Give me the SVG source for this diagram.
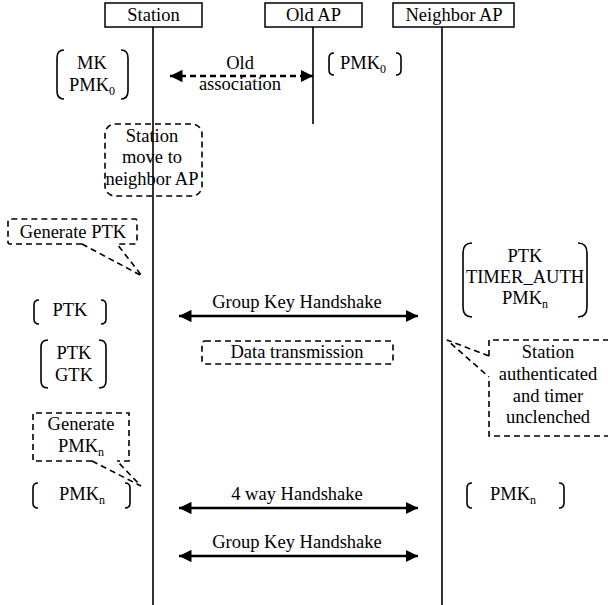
<svg xmlns="http://www.w3.org/2000/svg" width="608" height="605" viewBox="0 0 608 605" font-family="'Liberation Serif', 'Times New Roman', Times, serif">
<style>
text{font-family:'Liberation Serif','Times New Roman',Times,serif;font-size:18.5px;fill:#000;text-anchor:middle}
.sub{font-size:12px}
.box{fill:#fff;stroke:#000;stroke-width:1.5}
.life{stroke:#000;stroke-width:1.6;fill:none}
.br{fill:none;stroke:#000;stroke-width:1.6}
.dash{fill:none;stroke:#000;stroke-width:1.6;stroke-dasharray:6,4}
.msg{stroke:#000;stroke-width:2.5;fill:none;marker-start:url(#ah);marker-end:url(#ah)}
</style>
<defs>
<marker id="ah" viewBox="0 0 10 10" refX="10" refY="5" markerWidth="5" markerHeight="5" orient="auto-start-reverse" markerUnits="strokeWidth">
<path d="M0,0 L10,5 L0,10 z" fill="#000"/>
</marker>
</defs>

<g id="lifelines">
<line class="life" x1="153" y1="27" x2="153" y2="605"/>
<line class="life" x1="313" y1="27" x2="313" y2="124"/>
<line class="life" x1="442" y1="27" x2="442" y2="605"/>
</g>

<g id="station">
<rect class="box" x="105" y="3" width="97" height="24"/>
<text x="153.5" y="21">Station</text>
</g>
<g id="oldap">
<rect class="box" x="265" y="3" width="97" height="24"/>
<text x="313.5" y="21">Old AP</text>
</g>
<g id="neighborap">
<rect class="box" x="393" y="3" width="121" height="24"/>
<text x="454" y="21">Neighbor AP</text>
</g>

<g id="connectors">
<line class="msg" x1="170" y1="76" x2="313" y2="76" stroke-dasharray="6,4"/>
<line class="msg" x1="179" y1="316" x2="418" y2="316"/>
<line class="msg" x1="179" y1="508" x2="418" y2="508"/>
<line class="msg" x1="179" y1="556" x2="418" y2="556"/>
</g>

<g id="label-old-association">
<text x="240" y="69">Old</text>
<text x="240" y="90">association</text>
</g>
<g id="label-gkh1"><text x="297" y="308">Group Key Handshake</text></g>
<g id="label-4way"><text x="297" y="500">4 way Handshake</text></g>
<g id="label-gkh2"><text x="297" y="548">Group Key Handshake</text></g>

<g id="mk-pmk0">
<path class="br" d="M64,50 Q57,50 57,58 L57,91 Q57,99 64,99"/>
<path class="br" d="M121,50 Q128,50 128,58 L128,91 Q128,99 121,99"/>
<text x="92" y="69">MK</text>
<text x="92" y="91">PMK<tspan class="sub" dy="4">0</tspan></text>
</g>

<g id="oldap-pmk0">
<path class="br" d="M334,53 Q329,53 329,58 L329,70 Q329,75 334,75"/>
<path class="br" d="M396,53 Q401,53 401,58 L401,70 Q401,75 396,75"/>
<text x="363" y="69">PMK<tspan class="sub" dy="4">0</tspan></text>
</g>

<g id="station-move">
<rect class="dash" x="105" y="124" width="97" height="72" rx="10"/>
<text x="152" y="142">Station</text>
<text x="152" y="163">move to</text>
<text x="152" y="185">neighbor AP</text>
</g>

<g id="generate-ptk">
<path class="dash" d="M82,244 L10,244 Q8,244 8,242 L8,221 Q8,219 10,219 L135,219 Q137,219 137,221 L137,242 Q137,244 135,244 L117,244"/>
<path class="dash" d="M82,244 L142,276 L117,244"/>
<text x="73" y="238">Generate PTK</text>
</g>

<g id="neighbor-keys">
<path class="br" d="M472,243 Q463,243 463,253 L463,307 Q463,317 472,317"/>
<path class="br" d="M578,243 Q587,243 587,253 L587,307 Q587,317 578,317"/>
<text x="525" y="262">PTK</text>
<text x="525" y="283">TIMER_AUTH</text>
<text x="525" y="304">PMK<tspan class="sub" dy="4">n</tspan></text>
</g>

<g id="station-ptk">
<path class="br" d="M39,300 Q34,300 34,305 L34,319 Q34,324 39,324"/>
<path class="br" d="M101,300 Q106,300 106,305 L106,319 Q106,324 101,324"/>
<text x="70" y="316">PTK</text>
</g>

<g id="data-transmission">
<rect class="dash" x="202" y="341" width="191" height="23" rx="3"/>
<text x="297" y="358">Data transmission</text>
</g>

<g id="station-ptk-gtk">
<path class="br" d="M48,340 Q41,340 41,347 L41,381 Q41,388 48,388"/>
<path class="br" d="M99,340 Q106,340 106,347 L106,381 Q106,388 99,388"/>
<text x="74" y="359">PTK</text>
<text x="74" y="381">GTK</text>
</g>

<g id="station-authenticated">
<path class="dash" d="M489,356 L489,340 L620,340 M620,436 L489,436 L489,377"/>
<path class="dash" d="M489,356 L447,340 L489,377"/>
<text x="548" y="358">Station</text>
<text x="548" y="380">authenticated</text>
<text x="548" y="402">and timer</text>
<text x="548" y="423">unclenched</text>
</g>

<g id="generate-pmkn">
<path class="dash" d="M92,461 L33,461 L33,413 L129,413 L129,461 L117,461"/>
<path class="dash" d="M92,461 L141,486 L117,461"/>
<text x="81" y="430">Generate</text>
<text x="81" y="452">PMK<tspan class="sub" dy="4">n</tspan></text>
</g>

<g id="station-pmkn">
<path class="br" d="M38,483 Q33,483 33,488 L33,503 Q33,508 38,508"/>
<path class="br" d="M125,483 Q130,483 130,488 L130,503 Q130,508 125,508"/>
<text x="82" y="500">PMK<tspan class="sub" dy="4">n</tspan></text>
</g>

<g id="neighbor-pmkn">
<path class="br" d="M472,483 Q467,483 467,488 L467,503 Q467,508 472,508"/>
<path class="br" d="M559,483 Q564,483 564,488 L564,503 Q564,508 559,508"/>
<text x="513" y="500">PMK<tspan class="sub" dy="4">n</tspan></text>
</g>
</svg>
